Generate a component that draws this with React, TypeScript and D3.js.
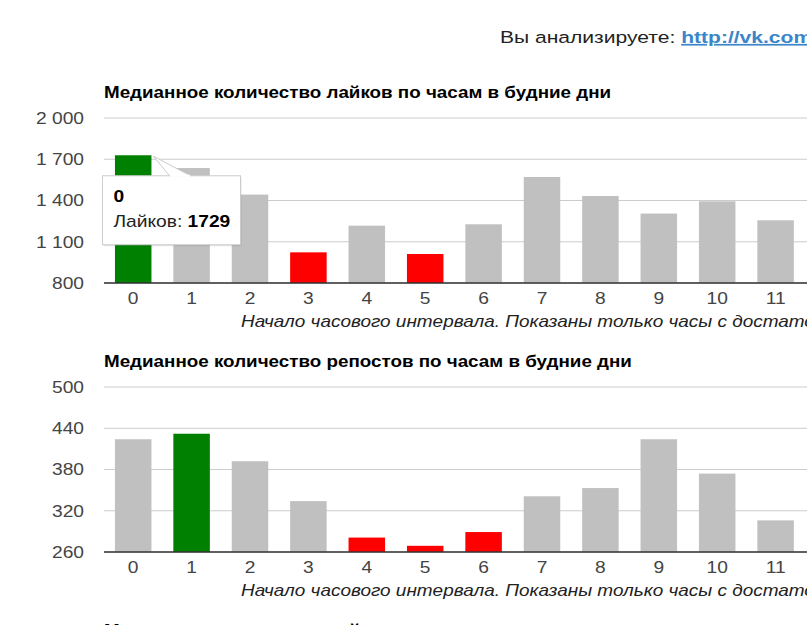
import React from "react";
import * as d3 from "d3";

const hours = ["0", "1", "2", "3", "4", "5", "6", "7", "8", "9", "10", "11"];
const likes = [1729, 1636, 1443, 1023, 1217, 1011, 1227, 1571, 1433, 1305, 1394, 1256];
const likesTicks = [800, 1100, 1400, 1700, 2000];
const likesBest = ["0"];
const likesWorst = ["3", "5"];
const reposts = [424, 432, 392, 334, 281, 269, 289, 341, 353, 424, 374, 306];
const repostsTicks = [260, 320, 380, 440, 500];
const repostsBest = ["1"];
const repostsWorst = ["4", "5", "6"];

const FONT = "'Liberation Sans', Arial, sans-serif";
const fmt = (v: number) => d3.format(",")(v).replace(/,/g, "\u00a0");

type STextProps = {
  x: number;
  y: number;
  sx?: number;
  size: number;
  anchor?: "start" | "middle" | "end";
  weight?: string;
  italic?: boolean;
  fill?: string;
  dy?: string;
  children: React.ReactNode;
};

function SText({ x, y, sx = 1.2, size, anchor = "start", weight, italic, fill = "#222", dy, children }: STextProps) {
  return (
    <text
      transform={`translate(${x},${y}) scale(${sx},1)`}
      dy={dy}
      textAnchor={anchor}
      fontFamily={FONT}
      fontSize={size}
      fontWeight={weight}
      fontStyle={italic ? "italic" : undefined}
      fill={fill}
    >
      {children}
    </text>
  );
}

type ChartProps = {
  top: number;
  title: string;
  values: number[];
  ticks: number[];
  best: string[];
  worst: string[];
  tooltip?: { cat: string; label: string };
};

function Chart({ top, title, values, ticks, best, worst, tooltip }: ChartProps) {
  const left = 104;
  const step = 58.4;
  const plotTop = top + 41;
  const plotBottom = top + 206;
  const x = d3
    .scaleBand<string>()
    .domain(hours)
    .range([left, left + hours.length * step])
    .paddingInner(0.375)
    .paddingOuter(0.1875);
  const y = d3
    .scaleLinear()
    .domain([ticks[0], ticks[ticks.length - 1]])
    .range([plotBottom, plotTop]);
  const color = (c: string) =>
    best.includes(c) ? "#008000" : worst.includes(c) ? "#ff0000" : "#c0c0c0";

  let tip: React.ReactNode = null;
  if (tooltip) {
    const i = hours.indexOf(tooltip.cat);
    const bx = (x(tooltip.cat) as number) + x.bandwidth();
    const by = y(values[i]);
    const boxX = 102.5;
    const boxY = by + 20.5;
    const boxW = 138;
    const boxH = 69;
    tip = (
      <g>
        <rect x={boxX + 1} y={boxY + 1.5} width={boxW} height={boxH} fill="#000" opacity={0.1} rx={1} />
        <rect x={boxX} y={boxY} width={boxW} height={boxH} fill="#fff" stroke="#cccccc" strokeWidth={1} />
        <path
          d={`M${boxX + 67},${boxY} L${bx + 2},${by + 1} L${boxX + 88},${boxY}`}
          fill="#fff"
          stroke="#cccccc"
          strokeWidth={1}
        />
        <line x1={boxX + 67.5} x2={boxX + 87.5} y1={boxY} y2={boxY} stroke="#fff" strokeWidth={2} />
        <SText x={boxX + 11} y={boxY + 26} size={16} weight="bold" fill="#000">
          {tooltip.cat}
        </SText>
        <SText x={boxX + 11} y={boxY + 51} size={16} fill="#222">
          {tooltip.label}: <tspan fontWeight="bold" fill="#000">{values[i]}</tspan>
        </SText>
      </g>
    );
  }

  return (
    <g>
      <SText x={left} y={top + 21} size={16} sx={1.176} weight="bold" fill="#000">
        {title}
      </SText>
      {ticks.map((t) => (
        <g key={t}>
          <line x1={left} x2={820} y1={y(t)} y2={y(t)} stroke="#cccccc" strokeWidth={1} />
          <SText x={84} y={y(t)} dy="0.36em" anchor="end" size={16} fill="#444">
            {fmt(t)}
          </SText>
        </g>
      ))}
      {hours.map((h, i) => (
        <rect
          key={h}
          x={x(h)}
          y={y(values[i])}
          width={x.bandwidth()}
          height={plotBottom - y(values[i])}
          fill={color(h)}
        />
      ))}
      <line x1={left} x2={820} y1={plotBottom} y2={plotBottom} stroke="#333" strokeWidth={1.5} />
      {hours.map((h) => (
        <SText
          key={h}
          x={(x(h) as number) + x.bandwidth() / 2}
          y={plotBottom + 21}
          anchor="middle"
          size={16}
          fill="#444"
        >
          {h}
        </SText>
      ))}
      <SText x={241} y={plotBottom + 44} size={16} sx={1.185} italic fill="#222">
        Начало часового интервала. Показаны только часы с достаточным количеством постов
      </SText>
      {tip}
    </g>
  );
}

export default function App() {
  return (
    <svg
      width={807}
      height={625}
      style={{ position: "absolute", left: 0, top: 0, background: "#fff" }}
    >
      <SText x={500} y={43} size={17} sx={1.24} fill="#222">
        Вы анализируете:{" "}
        <tspan fill="#3b85c9" fontWeight="bold" textDecoration="underline">
          http://vk.com/public
        </tspan>
      </SText>
      <Chart
        top={77}
        title="Медианное количество лайков по часам в будние дни"
        values={likes}
        ticks={likesTicks}
        best={likesBest}
        worst={likesWorst}
        tooltip={{ cat: "0", label: "Лайков" }}
      />
      <Chart
        top={346}
        title="Медианное количество репостов по часам в будние дни"
        values={reposts}
        ticks={repostsTicks}
        best={repostsBest}
        worst={repostsWorst}
      />
      <SText x={104} y={636} size={16} sx={1.176} weight="bold" fill="#000">
        Медианное количество лайков по часам в выходные дни
      </SText>
    </svg>
  );
}
